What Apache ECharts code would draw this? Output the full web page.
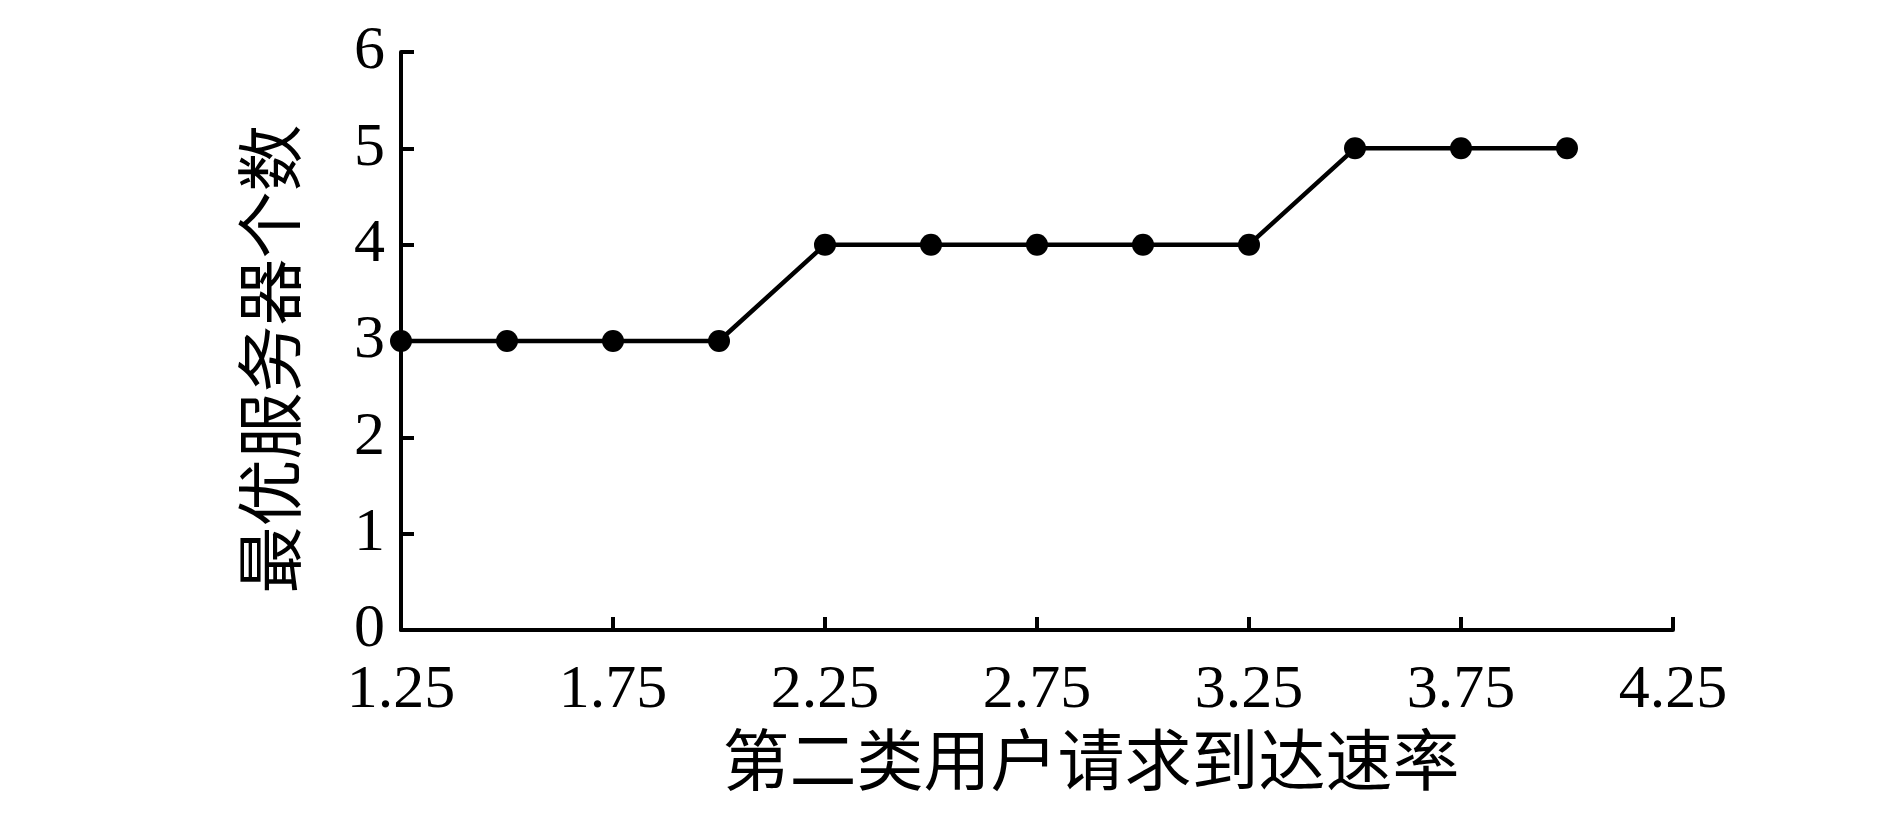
<!DOCTYPE html>
<html>
<head>
<meta charset="utf-8">
<script src="https://cdn.jsdelivr.net/npm/echarts@6/dist/echarts.min.js"></script>
<style>
  html, body { margin: 0; padding: 0; background: #fff; }
  #chart { width: 1890px; height: 827px; }
</style>
</head>
<body>
<div id="chart"></div>
<script>
// 第二类用户请求到达速率 vs 最优服务器个数
var rates = [1.25, 1.5, 1.75, 2.0, 2.25, 2.5, 2.75, 3.0, 3.25, 3.5, 3.75, 4.0];
var servers = [3, 3, 3, 3, 4, 4, 4, 4, 4, 5, 5, 5];
var xTicks = [1.25, 1.75, 2.25, 2.75, 3.25, 3.75, 4.25];
var yTicks = [0, 1, 2, 3, 4, 5, 6];

var serif = '"Liberation Serif", "Noto Sans CJK SC", serif';

var chart = echarts.init(document.getElementById('chart'));
chart.setOption({
    backgroundColor: '#fff',
    animation: false,
    grid: {
        left: 401,
        right: 217,
        top: 52,
        bottom: 197
    },
    xAxis: {
        type: 'value',
        min: 1.25,
        max: 4.25,
        name: '第二类用户请求到达速率',
        nameLocation: 'middle',
        nameGap: 104,
        nameTextStyle: {
            fontFamily: serif,
            fontSize: 67,
            color: '#000',
            padding: [0, 0, 0, 108]
        },
        splitLine: {show: false},
        axisLine: {lineStyle: {color: '#000', width: 4}},
        axisTick: {
            inside: true,
            length: 13,
            customValues: xTicks,
            lineStyle: {color: '#000', width: 4}
        },
        axisLabel: {
            customValues: xTicks,
            formatter: function (v) { return v.toFixed(2); },
            fontFamily: serif,
            fontSize: 62,
            color: '#000',
            margin: 30
        }
    },
    yAxis: {
        type: 'value',
        min: 0,
        max: 6,
        interval: 1,
        name: '最优服务器个数',
        nameLocation: 'middle',
        nameGap: 90,
        nameTextStyle: {
            fontFamily: serif,
            fontSize: 67,
            color: '#000',
            padding: [0, 36, 0, 0]
        },
        splitLine: {show: false},
        axisLine: {show: true, lineStyle: {color: '#000', width: 4}},
        axisTick: {
            show: true,
            inside: true,
            length: 13,
            lineStyle: {color: '#000', width: 4}
        },
        axisLabel: {
            fontFamily: serif,
            fontSize: 62,
            color: '#000',
            margin: 16
        }
    },
    series: [
        {
            type: 'line',
            data: rates.map(function (r, i) { return [r, servers[i]]; }),
            symbol: 'circle',
            symbolSize: 22,
            lineStyle: {color: '#000', width: 4.5},
            itemStyle: {color: '#000'}
        }
    ]
});
</script>
</body>
</html>
